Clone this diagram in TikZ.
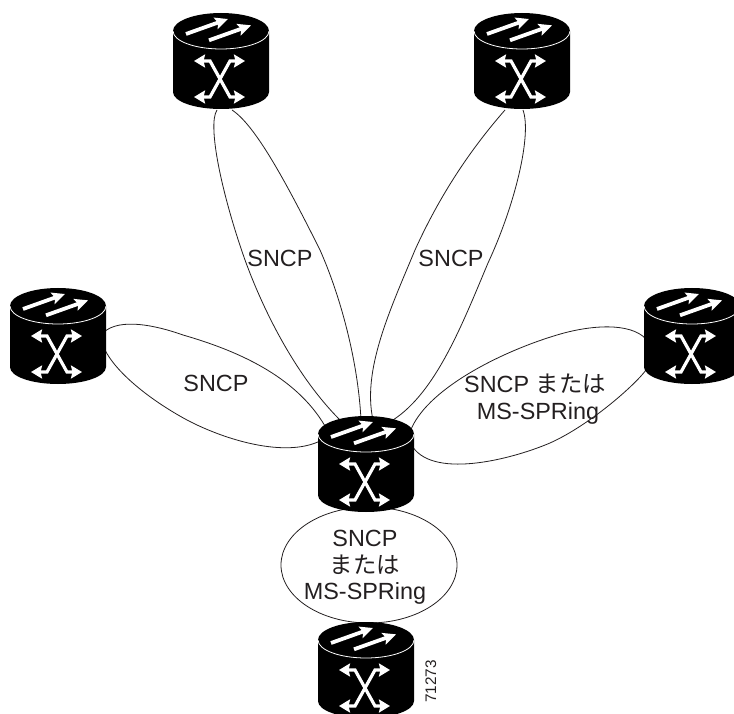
\documentclass[tikz,border=0pt]{standalone}
\usepackage{fontspec}
\setmainfont{Liberation Sans}
\newfontfamily\jpfont{Noto Sans CJK JP}
\usetikzlibrary{shapes.geometric,arrows.meta,calc}
\definecolor{ink}{HTML}{231F20}
\tikzset{
  x=1pt,y=-1pt,
  slot/.style={inner sep=0pt,minimum width=96pt,minimum height=96pt},
  loopline/.style={draw=ink,line width=0.8pt},
  lab/.style={inner sep=0pt,anchor=base,text=ink,font=\fontsize{23.4pt}{26pt}\selectfont},
  bigarrow/.style={white,line width=3.8pt,-{Stealth[length=13pt,width=12pt,inset=2.5pt]}},
  xarrow/.style={white,line width=3.2pt,{Stealth[length=11pt,width=13pt,inset=1.5pt]}-{Stealth[length=11pt,width=13pt,inset=1.5pt]}},
  router/.pic={
    \begin{scope}[shift={(-48,-48)}]
      \fill[black] (0,18) .. controls (0,8) and (21.5,0) .. (48,0)
        .. controls (74.5,0) and (96,8) .. (96,18) -- (96,79)
        .. controls (96,88.5) and (74.5,96) .. (48,96)
        .. controls (21.5,96) and (0,88.5) .. (0,79) -- cycle;
      \draw[white,line width=0.8pt] (0,18) .. controls (0,28) and (21.5,36) .. (48,36)
        .. controls (74.5,36) and (96,28) .. (96,18);
      \draw[bigarrow] (13,21) -- (55,6);
      \draw[bigarrow] (36,27.3) -- (78,12.3);
      \draw[xarrow] (21,48) -- (37,48) -- (57,84) -- (72,84);
      \draw[xarrow] (72,48) -- (57,48) -- (37,84) -- (21,84);
    \end{scope}
  }
}
\begin{document}
\begin{tikzpicture}
\useasboundingbox (0,0) rectangle (734,714);
\node[slot] (tl) at (221,61) {};
\node[slot] (tr) at (522,61) {};
\node[slot] (lf) at (58,336) {};
\node[slot] (rt) at (692,336) {};
\node[slot] (ct) at (366,464) {};
\node[slot] (bt) at (366,670) {};
% links
\draw[loopline] ($(tl)+(-4,49)$) .. controls (207,125) and (222,195) .. (245,260)
   .. controls (265,315) and (298,378) .. ($(ct)+(-26,-44)$);
\draw[loopline] ($(tl)+(11,49)$) .. controls (255,125) and (285,180) .. (320,250)
   .. controls (340,295) and (358,360) .. ($(ct)+(-5,-44)$);
\draw[loopline] ($(tr)+(-17,49)$) .. controls (470,150) and (440,195) .. (415,250)
   .. controls (390,310) and (362,370) .. ($(ct)+(7,-44)$);
\draw[loopline] ($(tr)+(1,49)$) .. controls (532,135) and (515,205) .. (488,263)
   .. controls (462,325) and (436,392) .. ($(ct)+(27,-44)$);
\draw[loopline] ($(lf)+(46,-4)$) .. controls (120,318) and (155,325) .. (183,335)
   .. controls (235,350) and (295,375) .. ($(ct)+(-41,-38)$);
\draw[loopline] ($(lf)+(46,12)$) .. controls (115,372) and (150,400) .. (187,420)
   .. controls (225,440) and (285,458) .. ($(ct)+(-46,-23)$);
\draw[loopline] ($(rt)+(-46,3)$) .. controls (630,322) and (590,325) .. (557,335)
   .. controls (500,352) and (425,390) .. ($(ct)+(44,-32)$);
\draw[loopline] ($(rt)+(-46,34)$) .. controls (635,385) and (590,425) .. (550,443)
   .. controls (510,460) and (430,480) .. ($(ct)+(45,-20)$);
\node[ellipse,draw=ink,line width=0.8pt,inner sep=0pt,minimum width=176pt,minimum height=116pt] (ring) at (369,565) {};
% routers
\pic at (tl) {router};
\pic at (tr) {router};
\pic at (lf) {router};
\pic at (rt) {router};
\pic at (ct) {router};
\pic at (bt) {router};
% labels
\node[lab] (l1) at (280,267) {SNCP};
\node[lab] (l2) at (451,267) {SNCP};
\node[lab] (l3) at (216,391) {SNCP};
\node[lab] (l4) at (535,392) {SNCP {\jpfont または}};
\node[lab] (l5) at (538,419) {MS-SPRing};
\node[lab] (l6) at (365,546) {SNCP};
\node[lab] (l7) at (365,573) {\jpfont または};
\node[lab] (l8) at (365,599) {MS-SPRing};
\node[inner sep=0pt,anchor=base,rotate=90,text=ink,font=\fontsize{15.3pt}{17pt}\selectfont] (id) at (436,681.5) {71273};
\end{tikzpicture}
\end{document}
